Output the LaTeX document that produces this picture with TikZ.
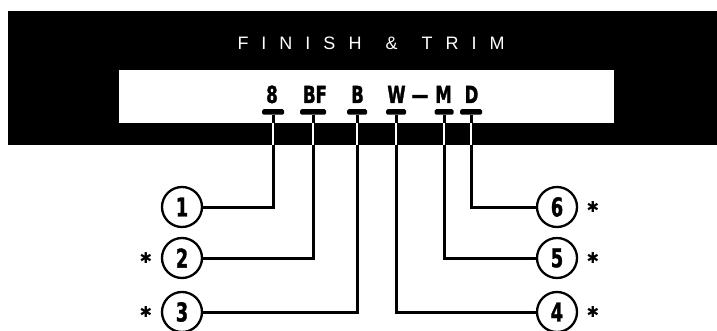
\documentclass[tikz,border=0pt]{standalone}
\usepackage{fontspec}
\newfontfamily\titlefont{Liberation Sans}
\newfontfamily\labfontfam[FakeStretch=0.7,FakeBold=1.5]{DejaVu Sans Bold}
\newfontfamily\numfontfam[FakeStretch=0.68,FakeBold=1.2]{DejaVu Sans Bold}
\newfontfamily\astfontfam{DejaVu Sans}
\newcommand\lsp{\hspace{13pt}}
\newcommand\wsp{\hspace{24pt}}
\begin{document}
\begin{tikzpicture}[x=1pt,y=-1pt,
  lab/.style={font=\labfontfam\fontsize{23.5}{23.5}\selectfont, anchor=base, inner sep=0},
  tbar/.style={fill=black, draw=none, minimum width=22, minimum height=5.5, inner sep=0, rounded corners=1.5},
  num/.style={circle, draw, line width=2.3, minimum size=40, inner sep=0, font=\numfontfam\fontsize{26}{26}\selectfont},
  wire/.style={line width=3},
  gap/.style={white, line width=2.2},
  ast/.style={font=\astfontfam\fontsize{15}{15}\selectfont, anchor=center, inner sep=0}]
\useasboundingbox (0,0) rectangle (717,331);
% black band and white window
\node[fill=black, draw=none, minimum width=709, minimum height=134, inner sep=0, anchor=north west] (band) at (8,11) {};
\node[fill=white, draw=none, minimum width=495, minimum height=53, inner sep=0, anchor=north west] (win) at (119,70) {};
% title
\node[text=white, inner sep=0, font=\titlefont\fontsize{18}{18}\selectfont] (title) at (371,43)
  {F\lsp I\lsp N\lsp I\lsp S\lsp H\wsp \&\wsp T\lsp R\lsp I\lsp M};
% labels
\node[lab] (l8) at (272,103) {8};
\node[lab] (lBF) at (315,103) {BF};
\node[lab] (lB) at (357.5,103) {B};
\node[lab] (lW) at (396.5,103) {W};
\node[lab] (ldash) at (420,103) {—};
\node[lab] (lM) at (443.5,103) {M};
\node[lab] (lD) at (471.5,103) {D};
% T bars
\node[tbar] (t8) at (273,112) {};
\node[tbar, minimum width=26] (tBF) at (313,112) {};
\node[tbar, minimum width=20] (tB) at (357,112) {};
\node[tbar, minimum width=20] (tW) at (396,112) {};
\node[tbar, minimum width=19] (tM) at (444,112) {};
\node[tbar] (tD) at (471,112) {};
% circles
\node[num] (c1) at (182,207) {1};
\node[num] (c2) at (182,258) {2};
\node[num] (c3) at (182,312) {3};
\node[num] (c4) at (557,312) {4};
\node[num] (c5) at (557,258) {5};
\node[num] (c6) at (557,207) {6};
% asterisks
\node[ast] (a2) at (146,258) {✱};
\node[ast] (a3) at (146,312) {✱};
\node[ast] (a4) at (593,312) {✱};
\node[ast] (a5) at (593,258) {✱};
\node[ast] (a6) at (593,207) {✱};
% wires
\draw[wire] (t8.south) |- (c1.east);
\draw[wire] (tBF.south) |- (c2.east);
\draw[wire] (tB.south) |- (c3.east);
\draw[wire] (tW.south) |- (c4.west);
\draw[wire] (tM.south) |- (c5.west);
\draw[wire] (tD.south) |- (c6.west);
% white stems through band
\foreach \t in {t8,tBF,tB,tW,tM,tD}
  \draw[gap] (\t.south |- win.south) -- (\t.south |- band.south);
\end{tikzpicture}
\end{document}
